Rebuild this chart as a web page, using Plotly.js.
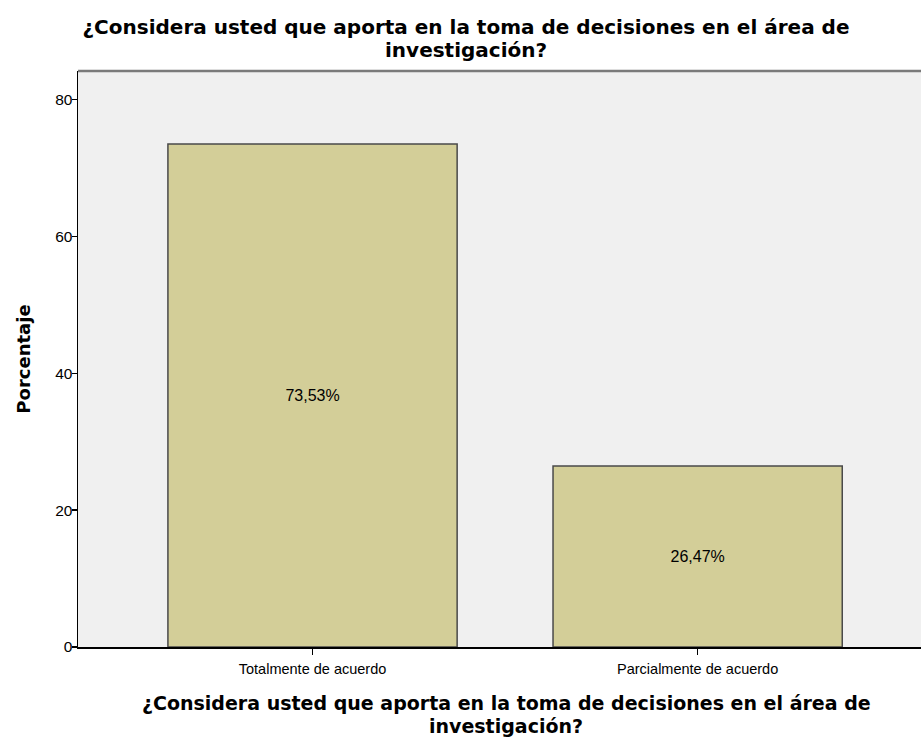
<!DOCTYPE html>
<html>
<head>
<meta charset="utf-8">
<script src="https://cdn.plot.ly/plotly-3.0.1.min.js"></script>
<style>html,body{margin:0;padding:0;background:#fff;}#chart{width:923px;height:738px;}</style>
</head>
<body>
<div id="chart"></div>
<script>
const categories = ["Totalmente de acuerdo", "Parcialmente de acuerdo"];
const percentages = [73.53, 26.47];
const barLabels = ["73,53%", "26,47%"];
const yTicks = [0, 20, 40, 60, 80];
const titleLine1 = "¿Considera usted que aporta en la toma de decisiones en el área de";
const titleLine2 = "investigación?";
const yTitle = "Porcentaje";

const FONT = "Liberation Sans, Arial, sans-serif";
const TFONT = "DejaVu Sans, Verdana, sans-serif";

const trace = {
  type: "bar",
  x: categories,
  y: percentages,
  width: 0.751,
  text: barLabels,
  textposition: "inside",
  insidetextanchor: "middle",
  textangle: 0,
  textfont: {family: FONT, size: 16, color: "#000"},
  marker: {color: "#D3CE98", line: {color: "#4a4a4a", width: 1.5}},
  hoverinfo: "skip"
};

function px2py(py) { return (647 - py) / 576; }
function px2px(px) { return (px - 78) / 843; }

const layout = {
  width: 923, height: 738,
  margin: {l: 78, r: 2, t: 71, b: 91},
  paper_bgcolor: "#ffffff",
  plot_bgcolor: "#F0F0F0",
  showlegend: false,
  font: {family: FONT, size: 12, color: "#000"},
  title: {
    text: "<b>" + titleLine1 + "</b>",
    font: {family: TFONT, size: 20, color: "#000"},
    x: 466 / 923, xanchor: "center",
    y: 1 - 26.5 / 738, yanchor: "middle"
  },
  xaxis: {
    type: "category",
    range: [-0.609, 1.58],
    showgrid: false, zeroline: false,
    showline: true, linecolor: "#000", linewidth: 1.5,
    ticks: "outside", ticklen: 6, tickcolor: "#000", tickwidth: 1.5,
    ticklabelstandoff: 2,
    tickfont: {family: FONT, size: 14.5, color: "#000"},
    fixedrange: true
  },
  yaxis: {
    range: [0, 84.2],
    tickvals: yTicks,
    showgrid: false, zeroline: false,
    showline: true, linecolor: "#000", linewidth: 1.5,
    ticks: "outside", ticklen: 5, tickcolor: "#000", tickwidth: 1.5,
    ticklabelstandoff: -4,
    tickfont: {family: FONT, size: 15.5, color: "#000"},
    title: {text: "<b>" + yTitle + "</b>", font: {family: TFONT, size: 18, color: "#000"}, standoff: 20},
    fixedrange: true
  },
  shapes: [
    {type: "line", xref: "paper", yref: "paper", x0: 0, x1: 1, y0: 1, y1: 1,
     line: {color: "#7a7a7a", width: 2.5}}
  ],
  annotations: [
    {xref: "paper", yref: "paper", x: px2px(466), y: px2py(49.5),
     xanchor: "center", yanchor: "middle", showarrow: false, borderpad: 0,
     text: "<b>" + titleLine2 + "</b>",
     font: {family: TFONT, size: 20, color: "#000"}},
    {xref: "paper", yref: "paper", x: px2px(506), y: px2py(703),
     xanchor: "center", yanchor: "middle", showarrow: false, borderpad: 0,
     text: "<b>" + titleLine1 + "</b>",
     font: {family: TFONT, size: 19, color: "#000"}},
    {xref: "paper", yref: "paper", x: px2px(506), y: px2py(725.5),
     xanchor: "center", yanchor: "middle", showarrow: false, borderpad: 0,
     text: "<b>" + titleLine2 + "</b>",
     font: {family: TFONT, size: 19, color: "#000"}}
  ]
};

Plotly.newPlot("chart", [trace], layout, {displayModeBar: false, staticPlot: true});
</script>
</body>
</html>
